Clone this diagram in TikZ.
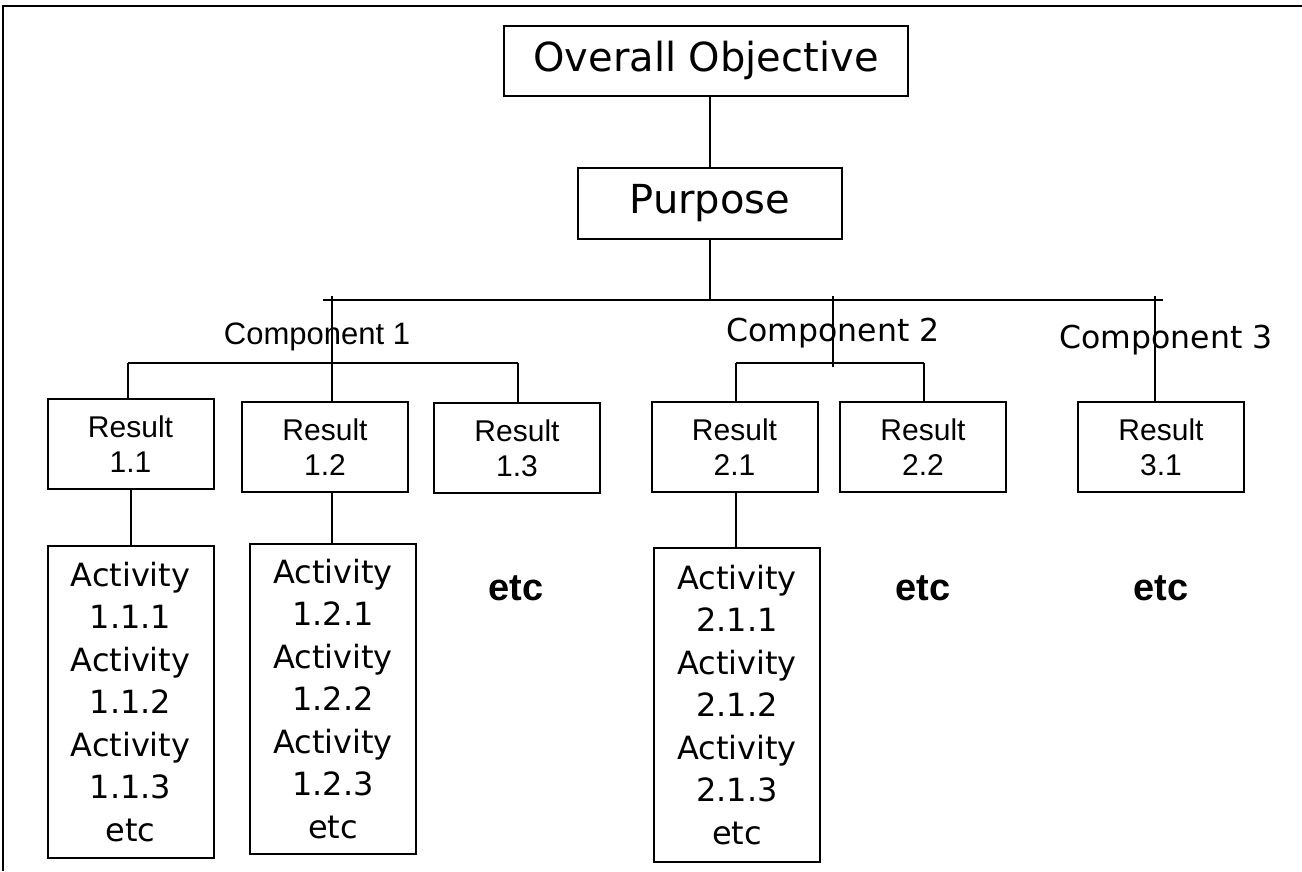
\documentclass[tikz,border=0pt]{standalone}
\usepackage{fontspec}
\newfontfamily\dvfont{DejaVu Sans}
\newfontfamily\lsfont{Liberation Sans}
\begin{document}
\begin{tikzpicture}[x=1pt,y=-1pt,line width=2pt,
  bigbox/.style={draw,inner sep=0pt,font={\dvfont\fontsize{40}{48}\selectfont}},
  resbox/.style={draw,inner sep=0pt,minimum width=166pt,minimum height=90pt,align=center,font={\lsfont\fontsize{30}{35}\selectfont}},
  actbox/.style={draw,inner sep=0pt,minimum width=166pt,align=center,font={\dvfont\fontsize{32}{42.5}\selectfont}},
  complabel/.style={inner sep=0pt,font={\lsfont\fontsize{31}{36}\selectfont}},
  complabelb/.style={inner sep=0pt,font={\dvfont\fontsize{31.5}{36}\selectfont}},
  etclabel/.style={inner sep=0pt,font={\lsfont\bfseries\fontsize{38}{44}\selectfont}},
  conn/.style={line width=2pt}]
\fill[white] (0,0) rectangle (1302,871);
\useasboundingbox (0,0) rectangle (1302,871);
% frame
\draw[line width=2.2pt] (3,871) -- (3,6) -- (1302,6);

% top boxes
\node[bigbox,minimum width=404pt,minimum height=70pt] (obj) at (706,60.5) {Overall Objective};
\node[bigbox,minimum width=264pt,minimum height=71pt] (pur) at (710,203.5) {Purpose};
\draw[conn] (pur.north) -- (pur.north |- obj.south);

% main bus
\coordinate (busL) at (323,300);
\coordinate (busR) at (1163,300);
\draw[conn] (busL) -- (busR);
\draw[conn] (pur.south) -- (pur.south |- busL);

% component labels
\node[complabel] (c1) at (317,337) {Component 1};
\node[complabelb] (c2) at (833,333) {Component 2};
\node[complabelb] (c3) at (1166,340) {Component 3};

% results
\node[resbox] (r11) at (130.5,444) {Result\\1.1};
\node[resbox] (r12) at (325,447) {Result\\1.2};
\node[resbox] (r13) at (517,448) {Result\\1.3};
\node[resbox] (r21) at (734.5,447) {Result\\2.1};
\node[resbox] (r22) at (923,447) {Result\\2.2};
\node[resbox] (r31) at (1161,447) {Result\\3.1};

% component 1 connectors
\coordinate (c1top) at (332,296);
\coordinate (s1L) at (128,363);
\coordinate (s1R) at (518,363);
\draw[conn] (c1top) -- (c1top |- r12.north);
\draw[conn] (s1L) -- (s1R);
\draw[conn] (s1L) -- (s1L |- r11.north);
\draw[conn] (s1R) -- (s1R |- r13.north);

% component 2 connectors
\coordinate (c2top) at (833,296);
\coordinate (c2bot) at (833,367);
\coordinate (s2L) at (736,363);
\coordinate (s2R) at (924,363);
\draw[conn] (c2top) -- (c2bot);
\draw[conn] (s2L) -- (s2R);
\draw[conn] (s2L) -- (s2L |- r21.north);
\draw[conn] (s2R) -- (s2R |- r22.north);

% component 3 connector
\coordinate (c3top) at (1155,296);
\draw[conn] (c3top) -- (c3top |- r31.north);

% activities
\node[actbox,minimum height=312pt] (a11) at (130.5,702) {Activity\\1.1.1\\Activity\\1.1.2\\Activity\\1.1.3\\etc};
\node[actbox,minimum height=310pt] (a12) at (333,699) {Activity\\1.2.1\\Activity\\1.2.2\\Activity\\1.2.3\\etc};
\node[actbox,minimum height=314pt] (a21) at (737,705) {Activity\\2.1.1\\Activity\\2.1.2\\Activity\\2.1.3\\etc};
\draw[conn] (a11.north |- r11.south) -- (a11.north);
\draw[conn] (c1top |- r12.south) -- (c1top |- a12.north);
\draw[conn] (s2L |- r21.south) -- (s2L |- a21.north);

% etc labels
\node[etclabel] (e13) at (516,588) {etc};
\node[etclabel] (e22) at (923,588) {etc};
\node[etclabel] (e31) at (1161,588) {etc};
\end{tikzpicture}
\end{document}
